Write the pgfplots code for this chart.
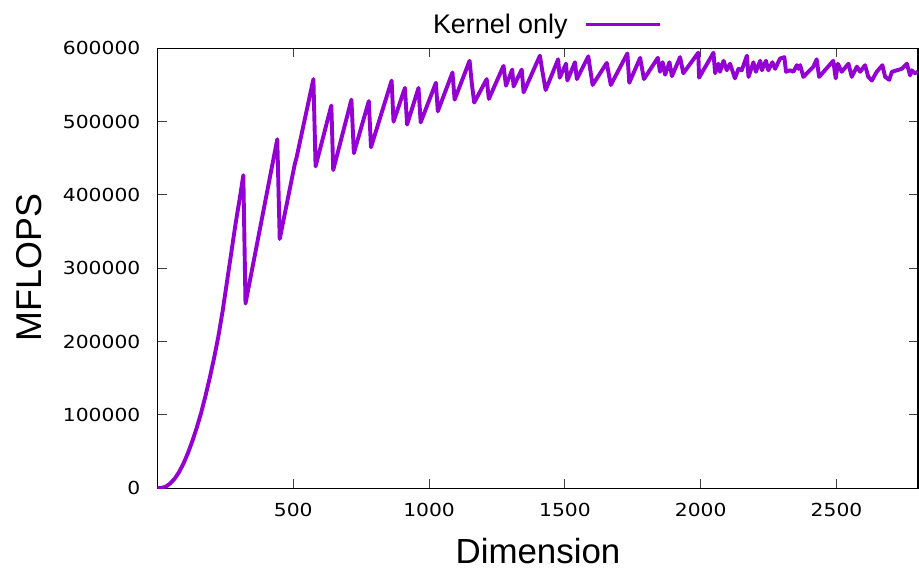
\documentclass[border=0pt]{standalone}
\usepackage{pgfplots}
\pgfplotsset{compat=1.18}
\usepackage{fontspec}
\setmainfont{Liberation Sans}
\newfontfamily\tickfont{DejaVu Sans}
\definecolor{gpviolet}{RGB}{148,0,211}
\begin{document}
\begin{tikzpicture}
\begin{axis}[
  at={(0,0)}, anchor=south west,
  width=760.5bp, height=440bp, scale only axis,
  xmin=0, xmax=2800, ymin=0, ymax=600000,
  xtick={500,1000,1500,2000,2500},
  ytick={0,100000,200000,300000,400000,500000,600000},
  scaled y ticks=false,
  /pgf/number format/assume math mode=true,
  yticklabel style={/pgf/number format/fixed, /pgf/number format/1000 sep={}, font=\tickfont\fontsize{18}{18}\selectfont, xscale=1.13, anchor=east, inner sep=0pt, xshift=-15bp},
  xticklabel style={/pgf/number format/1000 sep={}, font=\tickfont\fontsize{18}{18}\selectfont, xscale=1.13, anchor=north, inner sep=0pt, yshift=-15bp},
  tick align=inside,
  major tick length=9bp,
  tick style={line width=1bp, black!75},
  axis line style={line width=1.3bp, black},
  legend plot pos=right,
  legend image code/.code={\draw[#1, line width=3.3bp] (0bp,0bp) -- (74bp,0bp);},
  legend style={at={(axis description cs:0,1)}, anchor=south west, xshift=275.5bp, yshift=13bp,
    draw=none, fill=none, inner sep=0pt, outer sep=0pt, column sep=17bp,
    nodes={inner sep=0pt, font=\fontsize{27}{27}\selectfont}},
  clip=true,
]
\addplot[color=gpviolet, line width=3.9bp, line join=round] coordinates {
(0,0) (16,600) (32,2500) (48,7000) (64,13500) (80,22500) (96,34000) (112,48000)
(128,64000) (144,82000) (160,102000) (176,125000) (192,150000) (208,177000)
(224,207000) (240,242000) (256,282000) (272,322000) (288,362000) (304,398000)
(316,427000) (324,252000) (441,476000) (450,340000) (506,443000) (512,451000)
(574,558000) (582,439000) (640,522000) (647,434000) (714,530000) (723,457000)
(778,528000) (786,465000) (862,556000) (869,500000) (911,546000) (919,496000)
(961,546000) (969,499000) (1025,553000) (1032,514000) (1086,567000) (1094,530000)
(1149,583000) (1157,553000) (1166,526000) (1212,558000) (1220,531000)
(1274,576000) (1283,549000) (1306,571000) (1311,548000) (1341,571000) (1348,540000)
(1408,590000) (1416,571000) (1429,543000) (1475,585000) (1481,560000)
(1504,579000) (1509,556000) (1537,581000) (1544,558000) (1586,589000) (1602,550000)
(1654,580000) (1669,550000) (1730,593000) (1737,553000) (1777,587000) (1791,558000)
(1842,587000) (1850,568000) (1860,581000) (1869,564000) (1885,581000) (1894,562000)
(1924,588000) (1936,566000) (1991,594000) (1994,560000) (2047,594000) (2053,566000)
(2065,579000) (2071,568000) (2084,583000) (2096,570000) (2108,579000) (2126,559000)
(2139,572000) (2151,570000) (2170,590000) (2176,561000) (2194,581000) (2203,568000)
(2219,583000) (2225,570000) (2240,583000) (2249,570000) (2264,581000) (2274,572000)
(2292,586000) (2308,588000) (2314,568000) (2329,570000) (2341,568000) (2354,577000)
(2360,572000) (2366,577000) (2378,561000) (2415,575000) (2427,585000) (2436,561000)
(2488,583000) (2497,559000) (2505,579000) (2519,568000) (2544,579000) (2556,561000)
(2575,575000) (2587,568000) (2605,577000) (2617,561000) (2630,556000) (2648,568000)
(2669,577000) (2679,561000) (2694,557000) (2704,568000) (2722,570000) (2740,572000)
(2759,579000) (2771,563000) (2777,570000) (2788,566000) (2800,568000)
};
\addlegendentry{Kernel only}
\end{axis}
\node[rotate=90, anchor=base, font=\fontsize{36}{36}\selectfont] at (-115.8bp,221bp) {MFLOPS};
\node[anchor=base, font=\fontsize{35}{35}\selectfont] at (380.5bp,-74.7bp) {Dimension};
\path[use as bounding box] (-157.5bp,-85.7bp) rectangle (761.5bp,488.3bp);
\end{tikzpicture}
\end{document}
